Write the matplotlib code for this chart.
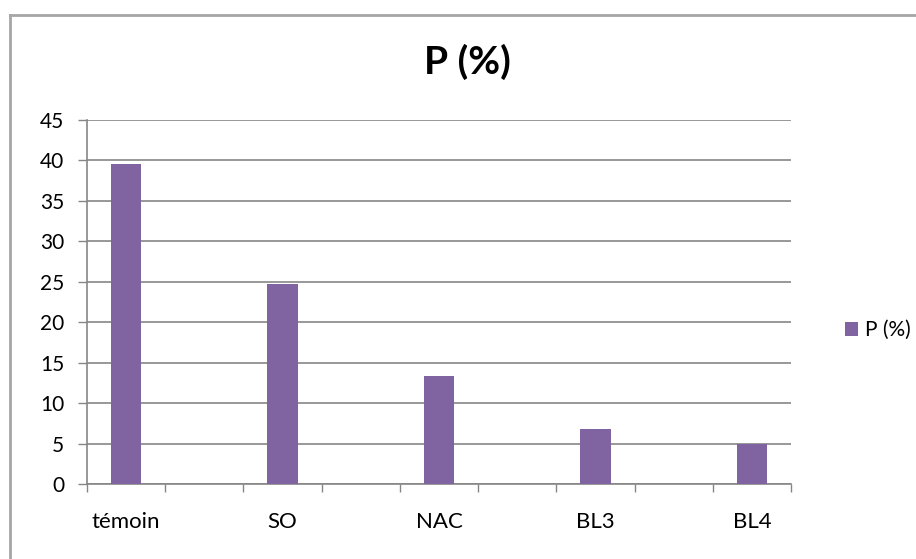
import matplotlib.pyplot as plt
from matplotlib.lines import Line2D
from matplotlib.patches import Patch
import numpy as np

# data (Excel-style chart with empty category slots between groups)
categories = ["témoin", "", "SO", "", "NAC", "", "BL3", "", "BL4"]
values = [39.5, 0, 24.7, 0, 13.3, 0, 6.8, 0, 4.9]
series_name = "P (%)"
yticks = [0, 5, 10, 15, 20, 25, 30, 35, 40, 45]

plt.rcParams['font.family'] = ['Lato', 'DejaVu Sans']

W, H = 916, 559
fig = plt.figure(figsize=(W / 100, H / 100), dpi=100)

# plot area in pixel coordinates
x0, x1, y_top, y_bot = 87, 791, 120, 484
ax = fig.add_axes([x0 / W, (H - y_bot) / H, (x1 - x0) / W, (y_bot - y_top) / H])

purple = "#8064A2"
grid_c = "#868686"

x = np.arange(len(categories))
ax.bar(x, values, width=0.385, color=purple, zorder=3)

ax.set_xlim(-0.5, len(categories) - 0.5)
ax.set_ylim(0, 45)
ax.set_yticks(yticks)
ax.yaxis.grid(True, color=grid_c, linewidth=1.2, zorder=0)

ax.set_xticks(x)
ax.set_xticklabels(categories, fontsize=16)
ax.set_xticks(np.arange(len(categories) + 1) - 0.5, minor=True)
ax.tick_params(axis='x', which='major', length=0, pad=20)
ax.tick_params(axis='x', which='minor', length=5.5, width=1, color=grid_c, direction='out')
ax.tick_params(axis='y', length=6.5, width=1, color=grid_c, labelsize=15, pad=10)

for side in ['top', 'right']:
    ax.spines[side].set_visible(False)
for side in ['left', 'bottom']:
    ax.spines[side].set_color(grid_c)
    ax.spines[side].set_linewidth(1.2)

fig.text(467 / W, 1 - 62 / H, "P (%)", fontsize=28, fontweight='bold',
         ha='center', va='center')

handle = Patch(facecolor=purple, edgecolor='none')
fig.legend([handle], [series_name], loc='center left',
           bbox_to_anchor=(826 / W, 1 - 330 / H), frameon=False,
           fontsize=15, handlelength=0.65, handleheight=0.65,
           handletextpad=0.3)

# outer chart border (top and left visible)
border = "#a6a6a6"
fig.add_artist(Line2D([9.5 / W, 9.5 / W], [0, 1 - 15 / H], color=border,
                      linewidth=2, transform=fig.transFigure))
fig.add_artist(Line2D([9.5 / W, 1], [1 - 15 / H, 1 - 15 / H], color=border,
                      linewidth=2, transform=fig.transFigure))

fig.savefig("out.png", dpi=100)
